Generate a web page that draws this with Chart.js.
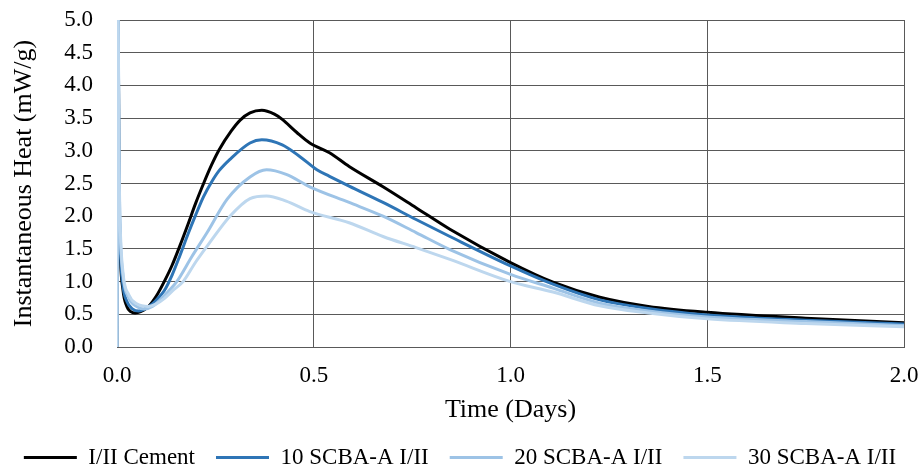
<!DOCTYPE html>
<html>
<head>
<meta charset="utf-8">
<title>Instantaneous Heat</title>
<script src="https://cdn.jsdelivr.net/npm/chart.js@4.4.1/dist/chart.umd.min.js"></script>
<style>
    html, body { margin: 0; padding: 0; background: #ffffff; }
</style>
</head>
<body>
<canvas id="heatChart" width="920" height="470"></canvas>
<script>
// Series names and colours
const seriesNames = ['I/II Cement', '10 SCBA-A I/II', '20 SCBA-A I/II', '30 SCBA-A I/II'];
const seriesColors = ['#000000', '#2e75b6', '#9dc3e6', '#bdd7ee'];

// Tick values
const xTickValues = [0, 0.5, 1.0, 1.5, 2.0];
const yTickValues = [0, 0.5, 1.0, 1.5, 2.0, 2.5, 3.0, 3.5, 4.0, 4.5, 5.0];

// I/II Cement
const cementDays = [0, 0.002, 0.005, 0.008, 0.015, 0.025, 0.035, 0.046, 0.06, 0.08, 0.1, 0.12, 0.14, 0.16, 0.18, 0.2, 0.22, 0.24, 0.26, 0.29, 0.313, 0.338, 0.368, 0.4, 0.42, 0.457, 0.49, 0.54, 0.59, 0.676, 0.76, 0.846, 1.0, 1.108, 1.227, 1.35, 1.5, 1.75, 2.0];
const cementHeat = [0, 6, 2.6, 1.5, 0.88, 0.62, 0.54, 0.52, 0.54, 0.62, 0.78, 1.0, 1.25, 1.55, 1.87, 2.2, 2.5, 2.78, 3.02, 3.3, 3.47, 3.58, 3.62, 3.56, 3.48, 3.28, 3.12, 2.97, 2.76, 2.45, 2.13, 1.8, 1.29, 0.99, 0.76, 0.62, 0.53, 0.44, 0.37];

// 10 SCBA-A I/II
const scba10Days = [0, 0.002, 0.005, 0.008, 0.015, 0.025, 0.04, 0.055, 0.07, 0.09, 0.1, 0.12, 0.14, 0.16, 0.18, 0.2, 0.22, 0.24, 0.26, 0.287, 0.338, 0.368, 0.42, 0.465, 0.508, 0.54, 0.59, 0.676, 0.76, 0.846, 1.0, 1.108, 1.227, 1.35, 1.5, 1.75, 2.0];
const scba10Heat = [0, 6, 2.7, 1.6, 0.95, 0.7, 0.58, 0.55, 0.58, 0.66, 0.72, 0.86, 1.1, 1.4, 1.72, 2.02, 2.3, 2.52, 2.7, 2.87, 3.12, 3.17, 3.09, 2.91, 2.71, 2.61, 2.46, 2.21, 1.95, 1.69, 1.24, 0.96, 0.72, 0.59, 0.49, 0.41, 0.35];

// 20 SCBA-A I/II
const scba20Days = [0, 0.002, 0.005, 0.008, 0.015, 0.03, 0.05, 0.07, 0.09, 0.11, 0.13, 0.152, 0.19, 0.229, 0.28, 0.338, 0.38, 0.43, 0.49, 0.59, 0.676, 0.76, 0.846, 1.0, 1.108, 1.227, 1.35, 1.5, 1.75, 2.0];
const scba20Heat = [0, 6, 2.9, 1.8, 1.1, 0.75, 0.62, 0.58, 0.62, 0.72, 0.85, 1.0, 1.38, 1.75, 2.26, 2.6, 2.71, 2.64, 2.45, 2.21, 2.0, 1.75, 1.49, 1.11, 0.9, 0.67, 0.55, 0.46, 0.39, 0.33];

// 30 SCBA-A I/II
const scba30Days = [0, 0.002, 0.005, 0.008, 0.015, 0.03, 0.05, 0.08, 0.1, 0.12, 0.145, 0.168, 0.2, 0.236, 0.287, 0.338, 0.38, 0.43, 0.49, 0.59, 0.676, 0.76, 0.846, 1.0, 1.108, 1.227, 1.35, 1.5, 1.75, 2.0];
const scba30Heat = [0, 6, 3.0, 1.9, 1.15, 0.8, 0.66, 0.62, 0.66, 0.74, 0.88, 1.0, 1.3, 1.6, 2.0, 2.27, 2.31, 2.23, 2.07, 1.9, 1.69, 1.52, 1.34, 1.0, 0.84, 0.63, 0.52, 0.43, 0.36, 0.31];

const seriesDays = [cementDays, scba10Days, scba20Days, scba30Days];
const seriesHeat = [cementHeat, scba10Heat, scba20Heat, scba30Heat];

const serif = '"Liberation Serif", "Times New Roman", serif';
const gridGray = '#595959';

function toPoints(days, heat) {
    return days.map((d, i) => ({ x: d, y: heat[i] }));
}

const datasets = seriesNames.map((name, i) => ({
    label: name,
    data: toPoints(seriesDays[i], seriesHeat[i]),
    borderColor: seriesColors[i],
    backgroundColor: seriesColors[i],
    borderWidth: 3,
    pointRadius: 0,
    cubicInterpolationMode: 'monotone',
    order: seriesNames.length - i   // lighter series drawn on top
}));

const ctx = document.getElementById('heatChart').getContext('2d');
const heatChart = new Chart(ctx, {
    type: 'line',
    data: { datasets: datasets },
    options: {
        responsive: false,
        animation: false,
        layout: {
            padding: { top: 20, right: 0, bottom: -9, left: 0 }
        },
        plugins: {
            tooltip: { enabled: false },
            legend: {
                position: 'bottom',
                labels: {
                    boxWidth: 53,
                    boxHeight: 3,
                    padding: 21,
                    color: '#000000',
                    font: { family: serif, size: 23 },
                    sort: (a, b) => a.datasetIndex - b.datasetIndex,
                    generateLabels: function (chart) {
                        return Chart.defaults.plugins.legend.labels.generateLabels(chart)
                            .map(item => Object.assign(item, { lineWidth: 0 }));
                    }
                }
            }
        },
        scales: {
            x: {
                type: 'linear',
                min: 0,
                max: 2,
                afterBuildTicks: scale => { scale.ticks = xTickValues.map(v => ({ value: v })); },
                afterFit: scale => {
                    scale.height = 78;
                    scale.paddingLeft = 0;
                    scale.paddingRight = 16;
                },
                ticks: {
                    color: '#000000',
                    font: { family: serif, size: 23 },
                    padding: 15,
                    maxRotation: 0,
                    autoSkip: false,
                    callback: v => Number(v).toFixed(1)
                },
                grid: {
                    color: gridGray,
                    lineWidth: 1,
                    drawTicks: false
                },
                border: { color: gridGray },
                title: {
                    display: true,
                    text: 'Time (Days)',
                    color: '#000000',
                    font: { family: serif, size: 26 },
                    padding: { top: 0, bottom: -1 }
                }
            },
            y: {
                type: 'linear',
                min: 0,
                max: 5,
                afterBuildTicks: scale => { scale.ticks = yTickValues.map(v => ({ value: v })); },
                afterFit: scale => {
                    scale.width = 117;
                    scale.paddingTop = 12;
                    scale.paddingBottom = 12;
                },
                ticks: {
                    color: '#000000',
                    font: { family: serif, size: 23 },
                    padding: 24,
                    autoSkip: false,
                    callback: v => Number(v).toFixed(1)
                },
                grid: {
                    color: gridGray,
                    lineWidth: 1,
                    drawTicks: false
                },
                border: { display: false },
                title: {
                    display: true,
                    text: 'Instantaneous Heat (mW/g)',
                    color: '#000000',
                    font: { family: serif, size: 26 },
                    padding: { top: 9, bottom: 0 }
                }
            }
        }
    }
});
</script>
</body>
</html>
